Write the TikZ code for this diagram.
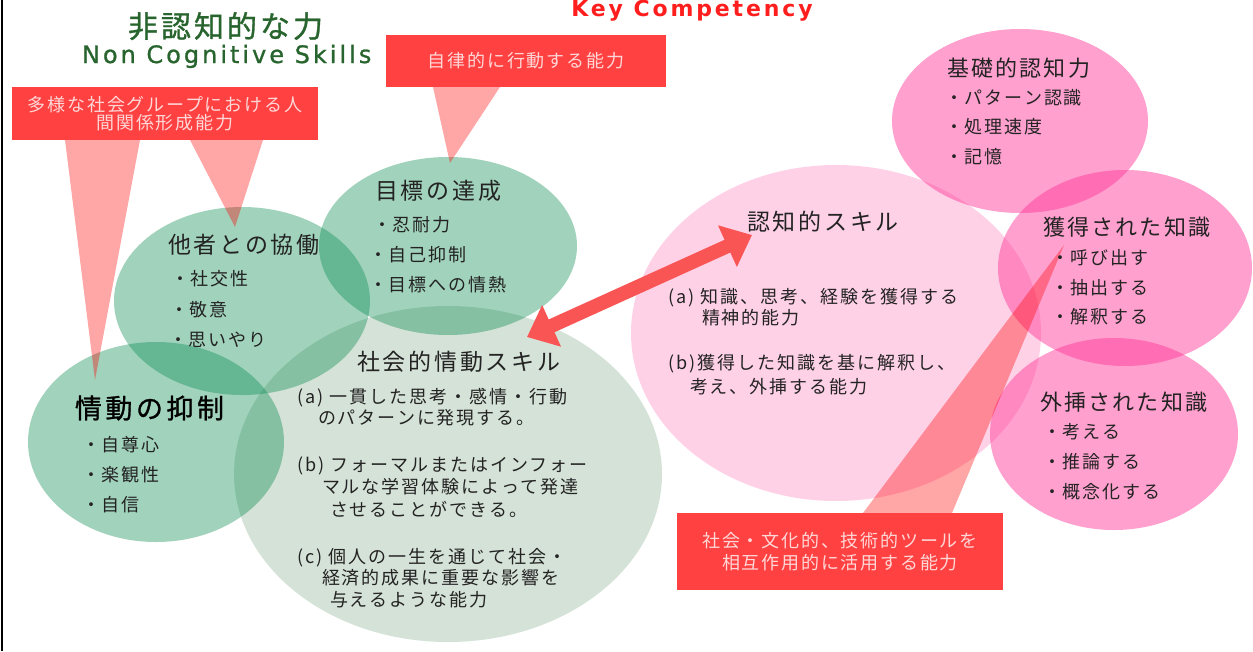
\documentclass[tikz,border=0pt]{standalone}
\usepackage{fontspec}
\usetikzlibrary{shapes.geometric,arrows.meta}
\newfontfamily\jp{Noto Sans CJK JP}
\newfontfamily\dv{DejaVu Sans}
\newfontfamily\dvb{DejaVu Sans Bold}
\definecolor{gC}{RGB}{0,135,75}
\definecolor{sC}{RGB}{100,150,110}
\definecolor{pC}{RGB}{255,50,150}
\definecolor{boxC}{RGB}{255,65,65}
\definecolor{boxT}{RGB}{255,215,215}
\definecolor{arrC}{RGB}{250,85,85}
\definecolor{ttlG}{RGB}{40,100,45}
\definecolor{kcR}{RGB}{255,30,30}
\definecolor{txt}{RGB}{35,35,35}
\pgfdeclarelayer{bg}
\pgfsetlayers{bg,main}
\tikzset{
  bx/.style={inner sep=0pt, outer sep=0pt},
  gell/.style={bx, ellipse, fill=gC, fill opacity=0.37},
  sell/.style={bx, ellipse, fill=sC, fill opacity=0.27},
  pell/.style={bx, ellipse, fill=pC, fill opacity=0.46},
  lpell/.style={bx, ellipse, fill=pC, fill opacity=0.22},
  tail/.style={fill=red, fill opacity=0.35},
  redbox/.style={bx, fill=boxC, text=boxT, align=center,
    font={\jp\fontsize{18}{20}\selectfont\addfontfeature{LetterSpace=10}}},
  hdg/.style={bx, anchor=base west, text=txt,
    font={\jp\fontsize{23}{26}\selectfont\addfontfeature{LetterSpace=12}}},
  hdp/.style={bx, anchor=base west, text=txt,
    font={\jp\fontsize{22}{25}\selectfont\addfontfeature{LetterSpace=10}}},
  hdb/.style={bx, anchor=base west, text=black,
    font={\jp\fontsize{27}{30}\selectfont\addfontfeature{LetterSpace=13,FakeBold=1}}},
  itm/.style={bx, anchor=base west, text=txt,
    font={\jp\fontsize{18}{20}\selectfont\addfontfeature{LetterSpace=11}}},
  arr/.style={draw=arrC, line width=14pt,
    {Triangle[width=44pt,length=27pt]}-{Triangle[width=44pt,length=27pt]}},
}
\begin{document}
\begin{tikzpicture}[x=1pt,y=-1pt]
\useasboundingbox (0,0) rectangle (1253,651);

% callout boxes
\node[redbox, minimum width=306pt, minimum height=53pt] (boxA) at (165,113.5)
  {多様な社会グループにおける人\\[-2pt]間関係形成能力};
\node[redbox, minimum width=280pt, minimum height=52pt] (boxB) at (526,61)
  {自律的に行動する能力};
\node[redbox, minimum width=326pt, minimum height=77pt] (boxC) at (840,551.5)
  {社会・文化的、技術的ツールを\\[2pt]相互作用的に活用する能力};

\begin{pgfonlayer}{bg}
\fill[white] (0,0) rectangle (1253,651);
% ellipses
\node[sell, minimum width=428pt, minimum height=336pt] (shakai) at (448,474) {};
\node[gell, minimum width=256pt, minimum height=188pt] (tasha) at (242,301) {};
\node[gell, minimum width=258pt, minimum height=178pt] (mokuhyo) at (448,246) {};
\node[gell, minimum width=256pt, minimum height=200pt] (jodo) at (156,442) {};
\node[lpell, minimum width=410pt, minimum height=336pt] (ninchi) at (836,333) {};
\node[pell, minimum width=256pt, minimum height=184pt] (kiso) at (1020,121) {};
\node[pell, minimum width=254pt, minimum height=196pt] (kakutoku) at (1125,268) {};
\node[pell, minimum width=248pt, minimum height=192pt] (gaiso) at (1114,434) {};
% tails
\coordinate (tA1) at (95,380);
\coordinate (tA2) at (235,227);
\coordinate (tB) at (450,163);
\coordinate (tC) at (1064,245);
\fill[tail] ([xshift=-100pt]boxA.south) -- ([xshift=-25pt]boxA.south) -- (tA1) -- cycle;
\fill[tail] ([xshift=25pt]boxA.south) -- ([xshift=98pt]boxA.south) -- (tA2) -- cycle;
\fill[tail] ([xshift=-93pt]boxB.south) -- ([xshift=-26pt]boxB.south) -- (tB) -- cycle;
\fill[tail] ([xshift=23pt]boxC.north) -- ([xshift=112pt]boxC.north) -- (tC) -- cycle;
\end{pgfonlayer}

\draw[line width=2pt, black] (1.5,0) -- (1.5,651);

% double arrow
\coordinate (arrA) at (527,337);
\coordinate (arrB) at (752,235);
\draw[arr] (arrA) -- (arrB);

% titles
\node[bx, anchor=base west, text=ttlG,
  font={\jp\fontsize{30}{32}\selectfont\addfontfeature{LetterSpace=10,FakeBold=1}}] (ttl1) at (128,37.4) {非認知的な力};
\node[bx, anchor=base west, text=ttlG,
  font={\dv\fontsize{24}{27}\selectfont\addfontfeature{LetterSpace=12.5,FakeBold=1}}] (ttl2) at (82,63) {Non Cognitive Skills};
\node[bx, anchor=base, text=kcR,
  font={\dvb\fontsize{22}{24}\selectfont\addfontfeature{LetterSpace=13}}] (kc) at (692,16.5) {Key Competency};

% green texts
\node[hdg] (t1) at (168,253.7) {他者との協働};
\node[itm] (t1a) at (171,285.8) {・社交性};
\node[itm] (t1b) at (170,316.8) {・敬意};
\node[itm] (t1c) at (169,346.8) {・思いやり};

\node[hdg] (t2) at (375,199.7) {目標の達成};
\node[itm] (t2a) at (373,231.8) {・忍耐力};
\node[itm] (t2b) at (369,261.8) {・自己抑制};
\node[itm] (t2c) at (369,291.8) {・目標への情熱};

\node[hdb] (t3) at (75,418.3) {情動の抑制};
\node[itm] (t3a) at (82,451.8) {・自尊心};
\node[itm] (t3b) at (82,481.8) {・楽観性};
\node[itm] (t3c) at (82,511.8) {・自信};

\node[hdg] (t4) at (357,370.7) {社会的情動スキル};
\node[itm] (t4a) at (297,403.8) {(a) 一貫した思考・感情・行動};
\node[itm] (t4b) at (318,424.8) {のパターンに発現する。};
\node[itm] (t4c) at (297,471.8) {(b) フォーマルまたはインフォー};
\node[itm] (t4d) at (322,493.8) {マルな学習体験によって発達};
\node[itm] (t4e) at (330,516.8) {させることができる。};
\node[itm] (t4f) at (297,563.8) {(c) 個人の一生を通じて社会・};
\node[itm] (t4g) at (322,584.8) {経済的成果に重要な影響を};
\node[itm] (t4h) at (330,606.8) {与えるような能力};

% pink texts
\node[hdg] (p1) at (747,230.7) {認知的スキル};
\node[itm] (p1a) at (668,303.8) {(a) 知識、思考、経験を獲得する};
\node[itm] (p1b) at (702,324.8) {精神的能力};
\node[itm] (p1c) at (668,369.8) {(b)獲得した知識を基に解釈し、};
\node[itm] (p1d) at (690,393.8) {考え、外挿する能力};

\node[hdp] (p2) at (947,76.4) {基礎的認知力};
\node[itm] (p2a) at (945,104.8) {・パターン認識};
\node[itm] (p2b) at (945,133.8) {・処理速度};
\node[itm] (p2c) at (945,163.8) {・記憶};

\node[hdp] (p3) at (1043,235.4) {獲得された知識};
\node[itm] (p3a) at (1051,264.8) {・呼び出す};
\node[itm] (p3b) at (1051,294.8) {・抽出する};
\node[itm] (p3c) at (1051,323.8) {・解釈する};

\node[hdp] (p4) at (1040,410.4) {外挿された知識};
\node[itm] (p4a) at (1043,438.8) {・考える};
\node[itm] (p4b) at (1043,468.8) {・推論する};
\node[itm] (p4c) at (1043,498.8) {・概念化する};
\end{tikzpicture}
\end{document}
